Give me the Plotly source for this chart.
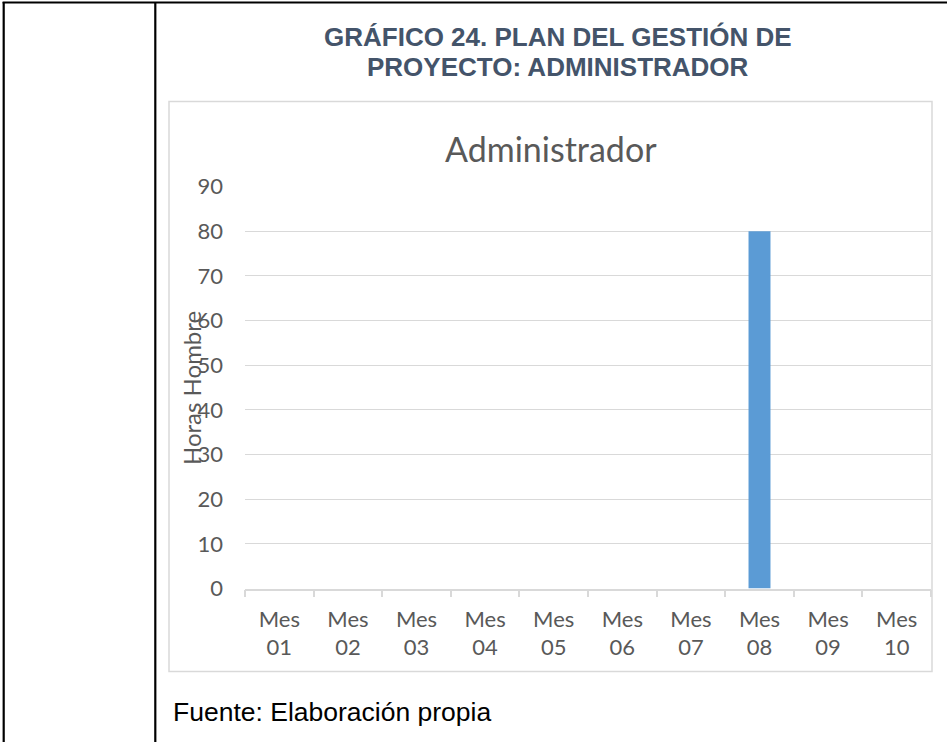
import plotly.graph_objects as go

W, H = 947, 742

categories = ["Mes<br>01", "Mes<br>02", "Mes<br>03", "Mes<br>04", "Mes<br>05",
              "Mes<br>06", "Mes<br>07", "Mes<br>08", "Mes<br>09", "Mes<br>10"]
horas = [0, 0, 0, 0, 0, 0, 0, 80, 0, 0]
y_ticks = [0, 10, 20, 30, 40, 50, 60, 70, 80, 90]

header_line1 = "GRÁFICO 24. PLAN DEL GESTIÓN DE"
header_line2 = "PROYECTO: ADMINISTRADOR"
chart_title = "Administrador"
y_title = "Horas Hombre"
source_text = "Fuente: Elaboración propia"


def px_x(x):
    return x / W


def px_y(y):
    return 1 - y / H


GRAY = "#595959"
GRID = "#d9d9d9"
FONT = "Lato"

fig = go.Figure()
fig.add_trace(go.Bar(x=categories, y=horas, marker=dict(color="#5B9BD5", line=dict(width=0)),
                     hoverinfo="skip"))

plot_left, plot_right = 245, 931
plot_top, plot_bottom = 186.7, 588.5

fig.update_layout(
    width=W, height=H,
    margin=dict(l=0, r=0, t=0, b=0),
    paper_bgcolor="white", plot_bgcolor="white",
    showlegend=False,
    bargap=0.68,
    xaxis=dict(
        domain=[px_x(plot_left), px_x(plot_right)],
        type="category",
        range=[-0.5, 9.5],
        showgrid=False,
        showline=True, linecolor=GRID, linewidth=1.5,
        ticks="outside", tickson="boundaries", ticklen=7, tickcolor=GRID, tickwidth=1.5,
        ticklabelstandoff=10,
        tickfont=dict(family=FONT, size=22, color=GRAY),
        automargin=False, fixedrange=True,
    ),
    yaxis=dict(
        domain=[px_y(plot_bottom), px_y(plot_top)],
        range=[0, 90],
        tickvals=y_ticks,
        showgrid=True, gridcolor=GRID, gridwidth=1.3,
        zeroline=False, showline=False,
        ticks="", ticklabelstandoff=21,
        tickfont=dict(family=FONT, size=22, color=GRAY),
        automargin=False, fixedrange=True,
    ),
    shapes=[
        # table borders
        dict(type="line", xref="paper", yref="paper", x0=px_x(3.7), x1=px_x(3.7), y0=px_y(2), y1=px_y(742),
             line=dict(color="black", width=2.2)),
        dict(type="line", xref="paper", yref="paper", x0=px_x(155.3), x1=px_x(155.3), y0=px_y(2), y1=px_y(742),
             line=dict(color="black", width=2.2)),
        dict(type="line", xref="paper", yref="paper", x0=px_x(2.6), x1=px_x(947), y0=px_y(2.5), y1=px_y(2.5),
             line=dict(color="black", width=2.2)),
        # chart box
        dict(type="rect", xref="paper", yref="paper", x0=px_x(169), x1=px_x(932), y0=px_y(101.5), y1=px_y(671.5),
             line=dict(color=GRID, width=1.5), fillcolor="rgba(0,0,0,0)", layer="below"),
    ],
    annotations=[
        dict(text="<b>" + header_line1 + "</b>", x=px_x(558), y=px_y(37), xref="paper", yref="paper",
             xanchor="center", yanchor="middle", showarrow=False,
             font=dict(family="Liberation Sans", size=26, color="#44546A")),
        dict(text="<b>" + header_line2 + "</b>", x=px_x(558), y=px_y(66.5), xref="paper", yref="paper",
             xanchor="center", yanchor="middle", showarrow=False,
             font=dict(family="Liberation Sans", size=26, color="#44546A")),
        dict(text=chart_title, x=px_x(551), y=px_y(148), xref="paper", yref="paper",
             xanchor="center", yanchor="middle", showarrow=False,
             font=dict(family=FONT, size=34, color=GRAY)),
        dict(text=y_title, x=px_x(191), y=px_y(388), xref="paper", yref="paper",
             xanchor="center", yanchor="middle", showarrow=False, textangle=-90,
             font=dict(family=FONT, size=24, color=GRAY)),
        dict(text=source_text, x=px_x(171), y=px_y(712), xref="paper", yref="paper",
             xanchor="left", yanchor="middle", showarrow=False,
             font=dict(family="Liberation Sans", size=26.5, color="black")),
    ],
)

fig.write_html(
    "out.html",
    config=dict(displayModeBar=False),
    post_script="document.body.style.margin='0';document.body.style.padding='0';document.body.style.overflow='hidden';",
)
